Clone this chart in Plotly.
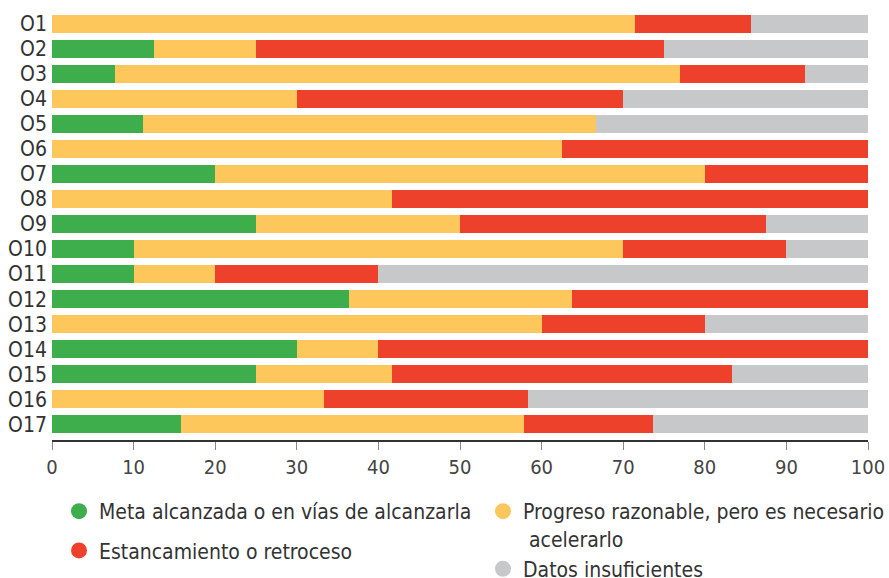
import plotly.graph_objects as go

categories = ["O1", "O2", "O3", "O4", "O5", "O6", "O7", "O8", "O9",
              "O10", "O11", "O12", "O13", "O14", "O15", "O16", "O17"]
meta = [0, 12.5, 7.7, 0, 11.1, 0, 20, 0, 25, 10, 10, 36.4, 0, 30, 25, 0, 15.8]
progreso = [71.4, 12.5, 69.2, 30, 55.6, 62.5, 60, 41.7, 25, 60, 10, 27.3, 60, 10, 16.7, 33.3, 42.1]
estancamiento = [14.3, 50, 15.4, 40, 0, 37.5, 20, 58.3, 37.5, 20, 20, 36.3, 20, 60, 41.6, 25, 15.8]
datos = [14.3, 25, 7.7, 30, 33.3, 0, 0, 0, 12.5, 10, 60, 0, 20, 0, 16.7, 41.7, 26.3]

series_names = ["Meta alcanzada o en vías de alcanzarla",
                "Progreso razonable, pero es necesario<br> acelerarlo",
                "Estancamiento o retroceso",
                "Datos insuficientes"]
series_values = [meta, progreso, estancamiento, datos]
colors = ["#3dae4b", "#fec75b", "#ee412b", "#c7c8ca"]
x_ticks = [0, 10, 20, 30, 40, 50, 60, 70, 80, 90, 100]

FONT = "Liberation Sans Narrow, DejaVu Sans Condensed, Open Sans, sans-serif"

fig = go.Figure()
for name, vals, col in zip(series_names, series_values, colors):
    fig.add_trace(go.Bar(y=categories, x=vals, orientation="h", name=name,
                         marker=dict(color=col, line=dict(width=0)),
                         showlegend=False))

legend_ids = ["legend", "legend2", "legend", "legend2"]
for i, (name, col, lg) in enumerate(zip(series_names, colors, legend_ids)):
    fig.add_trace(go.Scatter(x=[None], y=[None], mode="markers", name=name,
                             legendgroup="g%d" % i, legend=lg,
                             marker=dict(color=col, size=16, symbol="circle")))

fig.update_layout(
    barmode="stack",
    bargap=0.28,
    width=889, height=578,
    margin=dict(l=52, r=21, t=11, b=138, autoexpand=False),
    plot_bgcolor="white", paper_bgcolor="white",
    font=dict(family=FONT, size=20, color="#333333"),
    xaxis=dict(range=[0, 100], tickvals=x_ticks, showgrid=False, zeroline=False,
               showline=True, linecolor="#333333", linewidth=1.5,
               ticks="outside", ticklen=8, tickcolor="#888888", tickwidth=1,
               tickfont=dict(size=20, color="#444444"), fixedrange=True),
    yaxis=dict(categoryorder="array", categoryarray=categories,
               range=[16.62, -0.5], showgrid=False, zeroline=False,
               showline=False, ticks="", ticklabelstandoff=4,
               tickfont=dict(size=21, color="#333333")),
    legend=dict(xref="container", yref="container", x=59 / 889, y=1 - 491 / 578,
                xanchor="left", yanchor="top", traceorder="grouped",
                tracegroupgap=9, valign="top", bgcolor="rgba(0,0,0,0)",
                font=dict(size=21, color="#333333")),
    legend2=dict(xref="container", yref="container", x=483 / 889, y=1 - 491 / 578,
                 xanchor="left", yanchor="top", traceorder="grouped",
                 tracegroupgap=0, valign="top", bgcolor="rgba(0,0,0,0)",
                 font=dict(size=21, color="#333333")),
)

fig.write_html("out.html",
               config={"displayModeBar": False},
               post_script="document.body.style.margin='0';document.body.style.padding='0';")
